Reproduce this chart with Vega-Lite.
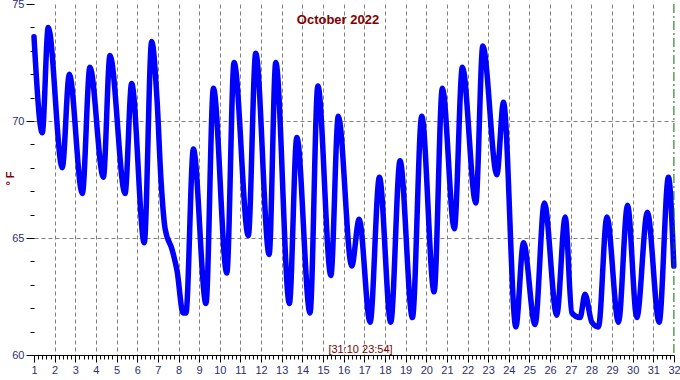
{
  "$schema": "https://vega.github.io/schema/vega-lite/v6.json",
  "width": 640,
  "height": 351,
  "autosize": {"type": "none"},
  "padding": {"left": 34, "top": 4, "right": 6, "bottom": 25},
  "background": "white",
  "config": {"view": {"stroke": null}, "font": "Liberation Sans"},
  "title": {"text": "October 2022", "color": "#800000", "font": "Liberation Sans", "fontSize": 13, "fontWeight": "bold", "anchor": "middle", "frame": "group", "baseline": "alphabetic", "offset": -19, "dx": -16, "dy": 20},
  "datasets": {
    "temps": [
      {"d": 1.00, "t": 73.6}, {"d": 1.40, "t": 69.5}, {"d": 1.69, "t": 74.0}, {"d": 2.37, "t": 68.0},
      {"d": 2.71, "t": 72.0}, {"d": 3.34, "t": 66.9}, {"d": 3.71, "t": 72.3}, {"d": 4.36, "t": 67.6},
      {"d": 4.68, "t": 72.8}, {"d": 5.41, "t": 66.9}, {"d": 5.73, "t": 71.6}, {"d": 6.34, "t": 64.8},
      {"d": 6.70, "t": 73.4}, {"d": 6.96, "t": 70.9}, {"d": 7.15, "t": 67.5}, {"d": 7.35, "t": 65.4},
      {"d": 7.69, "t": 64.5}, {"d": 7.93, "t": 63.6}, {"d": 8.22, "t": 61.8}, {"d": 8.36, "t": 61.8},
      {"d": 8.72, "t": 68.8}, {"d": 9.33, "t": 62.2}, {"d": 9.69, "t": 71.4}, {"d": 10.34, "t": 63.5},
      {"d": 10.69, "t": 72.5}, {"d": 11.38, "t": 65.1}, {"d": 11.74, "t": 72.9}, {"d": 12.39, "t": 64.3},
      {"d": 12.71, "t": 72.5}, {"d": 13.37, "t": 62.2}, {"d": 13.73, "t": 69.3}, {"d": 14.37, "t": 61.8},
      {"d": 14.75, "t": 71.5}, {"d": 15.38, "t": 63.4}, {"d": 15.74, "t": 70.2}, {"d": 16.39, "t": 63.8},
      {"d": 16.75, "t": 65.8}, {"d": 17.28, "t": 61.4}, {"d": 17.73, "t": 67.6}, {"d": 18.28, "t": 61.4},
      {"d": 18.73, "t": 68.3}, {"d": 19.33, "t": 61.6}, {"d": 19.78, "t": 70.2}, {"d": 20.38, "t": 62.7},
      {"d": 20.78, "t": 71.4}, {"d": 21.36, "t": 65.4}, {"d": 21.75, "t": 72.3}, {"d": 22.40, "t": 66.5},
      {"d": 22.74, "t": 73.2}, {"d": 23.42, "t": 67.7}, {"d": 23.74, "t": 70.8}, {"d": 24.34, "t": 61.2},
      {"d": 24.71, "t": 64.8}, {"d": 25.27, "t": 61.3}, {"d": 25.72, "t": 66.5}, {"d": 26.32, "t": 61.7},
      {"d": 26.73, "t": 65.9}, {"d": 27.05, "t": 61.8}, {"d": 27.45, "t": 61.6}, {"d": 27.69, "t": 62.6},
      {"d": 28.02, "t": 61.4}, {"d": 28.34, "t": 61.2}, {"d": 28.75, "t": 65.9}, {"d": 29.31, "t": 61.4},
      {"d": 29.75, "t": 66.4}, {"d": 30.20, "t": 61.6}, {"d": 30.71, "t": 66.1}, {"d": 31.28, "t": 61.4},
      {"d": 31.73, "t": 67.6}, {"d": 31.99, "t": 63.8}
    ],
    "now": [{"d": 31.996}]
  },
  "resolve": {"axis": {"x": "independent"}},
  "layer": [
    {
      "data": {"name": "temps"},
      "mark": {"type": "line", "color": "#0000ff", "strokeWidth": 5.5, "interpolate": "monotone", "strokeCap": "round", "strokeJoin": "round"},
      "encoding": {
        "x": {
          "field": "d", "type": "quantitative",
          "scale": {"domain": [1, 32], "nice": false, "zero": false},
          "axis": {
            "orient": "bottom",
            "values": [1,1.2,1.4,1.6,1.8,2,2.2,2.4,2.6,2.8,3,3.2,3.4,3.6,3.8,4,4.2,4.4,4.6,4.8,5,5.2,5.4,5.6,5.8,6,6.2,6.4,6.6,6.8,7,7.2,7.4,7.6,7.8,8,8.2,8.4,8.6,8.8,9,9.2,9.4,9.6,9.8,10,10.2,10.4,10.6,10.8,11,11.2,11.4,11.6,11.8,12,12.2,12.4,12.6,12.8,13,13.2,13.4,13.6,13.8,14,14.2,14.4,14.6,14.8,15,15.2,15.4,15.6,15.8,16,16.2,16.4,16.6,16.8,17,17.2,17.4,17.6,17.8,18,18.2,18.4,18.6,18.8,19,19.2,19.4,19.6,19.8,20,20.2,20.4,20.6,20.8,21,21.2,21.4,21.6,21.8,22,22.2,22.4,22.6,22.8,23,23.2,23.4,23.6,23.8,24,24.2,24.4,24.6,24.8,25,25.2,25.4,25.6,25.8,26,26.2,26.4,26.6,26.8,27,27.2,27.4,27.6,27.8,28,28.2,28.4,28.6,28.8,29,29.2,29.4,29.6,29.8,30,30.2,30.4,30.6,30.8,31,31.2,31.4,31.6,31.8,32],
            "labelExpr": "datum.value % 1 === 0 ? '' + datum.value : ''",
            "labelOverlap": false,
            "labelFlush": false,
            "labelFont": "Liberation Sans",
            "labelFontSize": 11,
            "labelColor": "#2e2e70",
            "labelPadding": 2,
            "domain": true,
            "domainColor": "#000000",
            "domainWidth": 1,
            "tickColor": "#000000",
            "tickWidth": 1,
            "tickSize": {"condition": {"test": "datum.value % 1 === 0", "value": 7}, "value": 4},
            "grid": true,
            "gridColor": "#808080",
            "gridWidth": 1,
            "gridDash": [4, 3],
            "gridOpacity": {"condition": {"test": "datum.value % 1 === 0 && datum.value > 1 && datum.value < 32", "value": 1}, "value": 0},
            "title": "[31:10 23:54]",
            "titleFont": "Liberation Sans",
            "titleFontSize": 11,
            "titleFontWeight": "normal",
            "titleColor": "#800000",
            "titleX": 326,
            "titleY": -3,
            "titleAlign": "center",
            "titleBaseline": "alphabetic"
          }
        },
        "y": {
          "field": "t", "type": "quantitative",
          "scale": {"domain": [60, 75], "nice": false, "zero": false},
          "axis": {
            "values": [60,61,62,63,64,65,66,67,68,69,70,71,72,73,74,75],
            "labelExpr": "datum.value % 5 === 0 ? datum.label : ''",
            "labelOverlap": false,
            "labelFont": "Liberation Sans",
            "labelFontSize": 11,
            "labelColor": "#2e2e70",
            "labelPadding": 2,
            "domain": false,
            "tickColor": "#000000",
            "tickWidth": 1,
            "tickSize": {"condition": {"test": "datum.value % 5 === 0", "value": 8}, "value": 4},
            "grid": true,
            "gridColor": "#808080",
            "gridWidth": 1,
            "gridDash": [4, 3],
            "gridOpacity": {"condition": {"test": "datum.value === 65 || datum.value === 70", "value": 1}, "value": 0},
            "title": "° F",
            "titleFont": "Liberation Sans",
            "titleFontSize": 11,
            "titleFontWeight": "bold",
            "titleColor": "#800000",
            "titleAngle": -90,
            "titleX": -24,
            "titleY": 174,
            "titleAlign": "center",
            "titleBaseline": "middle"
          }
        }
      }
    },
    {
      "data": {"name": "now"},
      "mark": {"type": "rule", "color": "#007000", "strokeWidth": 1, "strokeDash": [9, 3, 2, 3]},
      "encoding": {
        "x": {"field": "d", "type": "quantitative", "axis": null}
      }
    }
  ]
}
